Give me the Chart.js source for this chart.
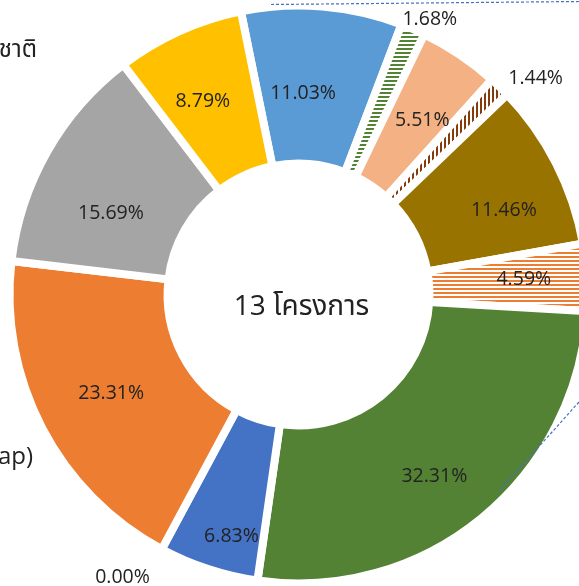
<!DOCTYPE html>
<html>
<head>
<meta charset="utf-8">
<script src="https://cdn.jsdelivr.net/npm/chart.js@4.4.1/dist/chart.umd.min.js"></script>
<style>
  html, body { margin: 0; padding: 0; background: #ffffff; }
  #wrap { width: 579px; height: 586px; position: relative; overflow: hidden; }
</style>
</head>
<body>
<div id="wrap"><canvas id="c" width="579" height="586"></canvas></div>
<script>
// ---------- data ----------
const categories = [
  'โครงการ 1', 'โครงการ 2', 'โครงการ 3', 'โครงการ 4', 'โครงการ 5', 'โครงการ 6',
  'โครงการ 7', 'โครงการ 8', 'โครงการ 9', 'โครงการ 10', 'โครงการ 11', 'โครงการ 12'
];
const percentValues = [11.03, 1.68, 5.51, 1.44, 11.46, 4.59, 32.31, 6.83, 0.00, 23.31, 15.69, 8.79];
const centerTitle = '13 โครงการ';
const cutOffLabelLeftTop = 'ชาติ';
const cutOffLabelLeftBottom = 'ap)';

// ---------- styles ----------
const FONT = "'Open Sans', 'Noto Sans', 'Noto Sans Thai', 'Noto Sans Thai Looped', 'DejaVu Sans', sans-serif";
function stripes(color, vertical) {
  const c = document.createElement('canvas');
  c.width = 4; c.height = 4;
  const g = c.getContext('2d');
  g.fillStyle = '#ffffff';
  g.fillRect(0, 0, 4, 4);
  g.fillStyle = color;
  if (vertical) g.fillRect(0, 0, 2, 4); else g.fillRect(0, 0, 4, 2);
  return g.createPattern(c, 'repeat');
}
const sliceColors = [
  '#5B9BD5',                 // 11.03
  stripes('#548235', false), // 1.68
  '#F4B183',                 // 5.51
  stripes('#843C0C', true),  // 1.44
  '#997300',                 // 11.46
  stripes('#ED7D31', false), // 4.59
  '#548235',                 // 32.31
  '#4472C4',                 // 6.83
  '#A9D18E',                 // 0.00
  '#ED7D31',                 // 23.31
  '#A5A5A5',                 // 15.69
  '#FFC000'                  // 8.79
];
const BORDER = 8;
// per-label placement tweaks (px) to mimic the spreadsheet's label layout
const labelNudge = [
  [-13, 13], [8, 11], [4, 4], [16, 12], [14, 13], [11, -2],
  [0, 16], [0, 38], [-28, 7], [3, 0], [-1, 25], [-7, 2]
];

const labelPlugin = {
  id: 'sliceLabels',
  afterDatasetsDraw(chart) {
    const ctx = chart.ctx;
    const meta = chart.getDatasetMeta(0);
    ctx.save();
    ctx.fillStyle = '#222222';
    ctx.textAlign = 'center';
    ctx.textBaseline = 'middle';
    ctx.font = '400 19.5px ' + FONT;
    let cx = 0, cy = 0;
    meta.data.forEach((arc, i) => {
      const v = percentValues[i];
      const p = arc.getProps(['x', 'y', 'startAngle', 'endAngle', 'innerRadius', 'outerRadius'], true);
      cx = p.x; cy = p.y;
      const mid = (p.startAngle + p.endAngle) / 2;
      const cs = Math.cos(mid), sn = Math.sin(mid);
      const txt = v.toFixed(2) + '%';
      let r;
      if (v >= 3) {
        r = p.innerRadius + 0.53 * (p.outerRadius - p.innerRadius);
      } else {
        const w = ctx.measureText(txt).width;
        r = p.outerRadius - BORDER / 2 + 8 + Math.abs(cs) * w / 2 + Math.abs(sn) * 8;
      }
      const n = labelNudge[i] || [0, 0];
      ctx.fillText(txt, p.x + cs * r + n[0], p.y + sn * r + n[1]);
    });
    // centre title
    ctx.font = '400 28px ' + FONT;
    ctx.fillText(centerTitle, cx + 3, cy + 13);
    // cut-off texts at left edge
    ctx.font = '400 24px ' + FONT;
    ctx.textAlign = 'right';
    ctx.textBaseline = 'alphabetic';
    ctx.fillText(cutOffLabelLeftTop, 37, 57);
    ctx.fillText(cutOffLabelLeftBottom, 33, 464);
    ctx.restore();
  },
  afterDraw(chart) {
    const ctx = chart.ctx;
    ctx.save();
    ctx.strokeStyle = '#4472C4';
    ctx.lineWidth = 1.2;
    ctx.setLineDash([3, 2]);
    ctx.beginPath();
    ctx.moveTo(271, 4.5); ctx.lineTo(579, 1.5);
    ctx.moveTo(579, 402); ctx.lineTo(500, 490);
    ctx.stroke();
    ctx.restore();
  }
};

new Chart(document.getElementById('c'), {
  type: 'doughnut',
  data: {
    labels: categories,
    datasets: [{
      data: percentValues,
      backgroundColor: sliceColors,
      borderColor: '#ffffff',
      borderWidth: BORDER,
      radius: 289,
      cutout: '45.3%',
      rotation: -11.5,
      circumference: 360,
      clip: false
    }]
  },
  options: {
    responsive: false,
    animation: false,
    devicePixelRatio: 1,
    layout: { padding: { left: 18, top: 3, right: 0, bottom: 0 } },
    plugins: { legend: { display: false }, tooltip: { enabled: false } }
  },
  plugins: [labelPlugin]
});
</script>
</body>
</html>
